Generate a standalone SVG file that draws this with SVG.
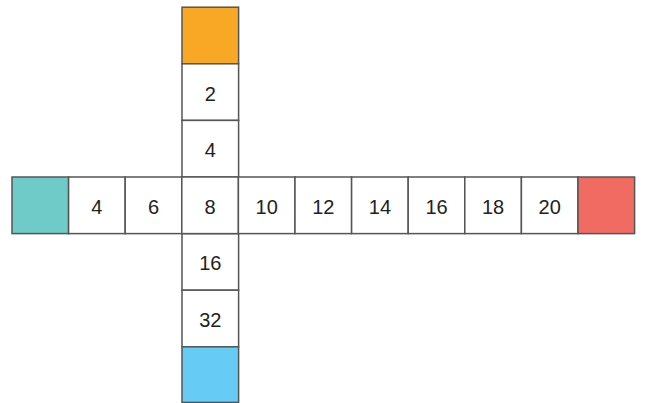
<svg xmlns="http://www.w3.org/2000/svg" width="656" height="403" viewBox="0 0 656 403">
<style>
rect{stroke:#555;stroke-width:1.5;fill:#fff}
text{font-family:"Liberation Sans",Arial,sans-serif;font-size:20px;fill:#222;text-anchor:middle;dominant-baseline:central}
.teal{fill:#6ECBC8}.orange{fill:#F9A826}.blue{fill:#66CCF5}.red{fill:#F26B63}
</style>
<rect width="656" height="403" style="fill:#fff;stroke:none"/>
<g id="v1"><rect class="orange" x="182" y="7.2" width="56.6" height="56.6"/></g>
<g id="v2"><rect x="182" y="63.8" width="56.6" height="56.6"/><text x="210.3" y="93.5">2</text></g>
<g id="v3"><rect x="182" y="120.4" width="56.6" height="56.6"/><text x="210.3" y="150.1">4</text></g>
<g id="v5"><rect x="182" y="233.6" width="56.6" height="56.6"/><text x="210.3" y="263.3">16</text></g>
<g id="v6"><rect x="182" y="290.2" width="56.6" height="56.6"/><text x="210.3" y="319.9">32</text></g>
<g id="v7"><rect class="blue" x="182" y="346.8" width="56.6" height="55.6"/></g>
<g id="h0"><rect class="teal" x="12" y="177" width="56.6" height="56.6"/></g>
<g id="h1"><rect x="68.6" y="177" width="56.6" height="56.6"/><text x="96.9" y="206.7">4</text></g>
<g id="h2"><rect x="125.2" y="177" width="56.6" height="56.6"/><text x="153.5" y="206.7">6</text></g>
<g id="h3"><rect x="181.8" y="177" width="56.6" height="56.6"/><text x="210.1" y="206.7">8</text></g>
<g id="h4"><rect x="238.4" y="177" width="56.6" height="56.6"/><text x="266.7" y="206.7">10</text></g>
<g id="h5"><rect x="295" y="177" width="56.6" height="56.6"/><text x="323.3" y="206.7">12</text></g>
<g id="h6"><rect x="351.6" y="177" width="56.6" height="56.6"/><text x="379.9" y="206.7">14</text></g>
<g id="h7"><rect x="408.2" y="177" width="56.6" height="56.6"/><text x="436.5" y="206.7">16</text></g>
<g id="h8"><rect x="464.8" y="177" width="56.6" height="56.6"/><text x="493.1" y="206.7">18</text></g>
<g id="h9"><rect x="521.4" y="177" width="56.6" height="56.6"/><text x="549.7" y="206.7">20</text></g>
<g id="h10"><rect class="red" x="578" y="177" width="56.6" height="56.6"/></g>
<g id="connectors"></g>
</svg>
